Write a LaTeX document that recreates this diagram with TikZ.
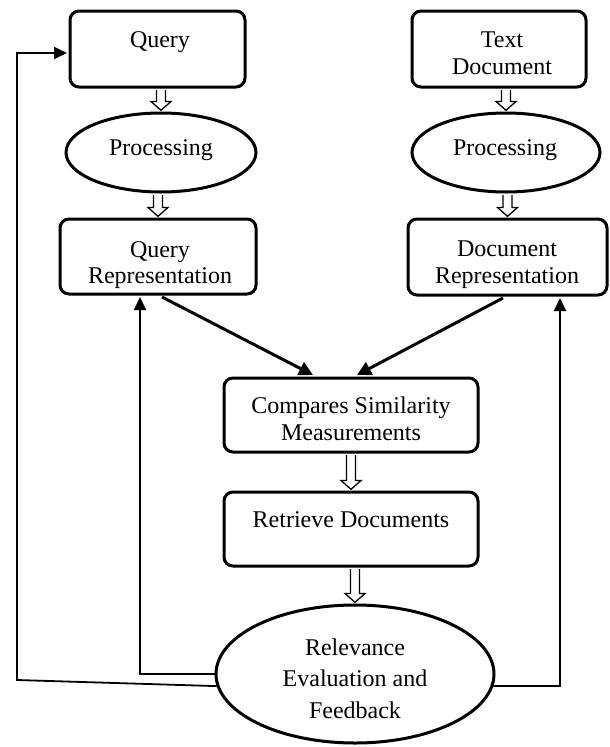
\documentclass[tikz,border=0pt]{standalone}
\usepackage{fontspec}
\setmainfont{Liberation Serif}
\usetikzlibrary{arrows.meta,calc,shapes.geometric}
\newcommand\hollowarr[2]{%
  \draw[hollowa] ($(#2.north |- #1.south)+(-4.5,1.5)$) -- ($(#2.north)+(-4.5,-10)$) -- ($(#2.north)+(-10,-10)$) -- ($(#2.north)+(0,-1.2)$) -- ($(#2.north)+(10,-10)$) -- ($(#2.north)+(4.5,-10)$) -- ($(#2.north |- #1.south)+(4.5,1.5)$);}
\begin{document}
\begin{tikzpicture}[x=1pt,y=-1pt,
  box/.style={draw, line width=3pt, rounded corners=9pt, inner sep=0pt},
  oval/.style={draw, ellipse, line width=3pt, inner sep=0pt},
  lbl/.style={anchor=base, inner sep=0pt, font=\fontsize{24}{28}\selectfont},
  diag/.style={line width=3pt, -{Triangle[length=14pt,width=14pt]}},
  fbarrow/.style={line width=1.8pt, -{Triangle[length=13pt,width=12pt]}},
  hollowa/.style={draw, fill=white, line width=1.3pt, line join=miter}]
\useasboundingbox (0,0) rectangle (610,747);

% shapes
\node[box, minimum width=175, minimum height=76] (q) at (157.5,49) {};
\node[box, minimum width=174, minimum height=76] (td) at (499,49) {};
\node[oval, minimum width=190, minimum height=79] (pl) at (161,152.5) {};
\node[oval, minimum width=188, minimum height=79] (pr) at (506,152.5) {};
\node[box, minimum width=196, minimum height=75] (qr) at (158,256.5) {};
\node[box, minimum width=199, minimum height=76] (dr) at (507.5,257) {};
\node[box, minimum width=254, minimum height=74] (cmp) at (351,415) {};
\node[box, minimum width=254, minimum height=74] (ret) at (351,529) {};
\node[oval, minimum width=278, minimum height=138] (rel) at (355,674) {};

% texts
\node[lbl] (tq) at (160,47) {Query};
\node[lbl] (ttd1) at (502,47) {Text};
\node[lbl] (ttd2) at (502,74) {Document};
\node[lbl] (tpl) at (161,155) {Processing};
\node[lbl] (tpr) at (505,155) {Processing};
\node[lbl] (tqr1) at (160,257) {Query};
\node[lbl] (tqr2) at (160,283) {Representation};
\node[lbl] (tdr1) at (507,256) {Document};
\node[lbl] (tdr2) at (507,283) {Representation};
\node[lbl] (tc1) at (351,413) {Compares Similarity};
\node[lbl] (tc2) at (351,440) {Measurements};
\node[lbl] (tr) at (351,527) {Retrieve Documents};
\node[lbl] (tre1) at (355,655) {Relevance};
\node[lbl] (tre2) at (355,686) {Evaluation and};
\node[lbl] (tre3) at (355,718) {Feedback};

% hollow arrows
\hollowarr{q}{pl}
\hollowarr{td}{pr}
\hollowarr{pl}{qr}
\hollowarr{pr}{dr}
\hollowarr{cmp}{ret}
\hollowarr{ret}{rel}

% diagonal arrows
\draw[diag] ($(qr.south)+(4,1.5)$) -- ($(cmp.north)+(-38,-1.5)$);
\draw[diag] ($(dr.south)+(-4.5,1.5)$) -- ($(cmp.north)+(6,-1.5)$);

% feedback lines
\coordinate (lc) at (17,680);
\draw[fbarrow] (rel.west) -| ($(qr.south)+(-18,1.5)$);
\draw[fbarrow] (rel.185) -- (lc) |- ($(q.west)+(-1.5,4)$);
\draw[fbarrow] (rel.355) -| ($(dr.south)+(52.5,1.5)$);
\end{tikzpicture}
\end{document}
